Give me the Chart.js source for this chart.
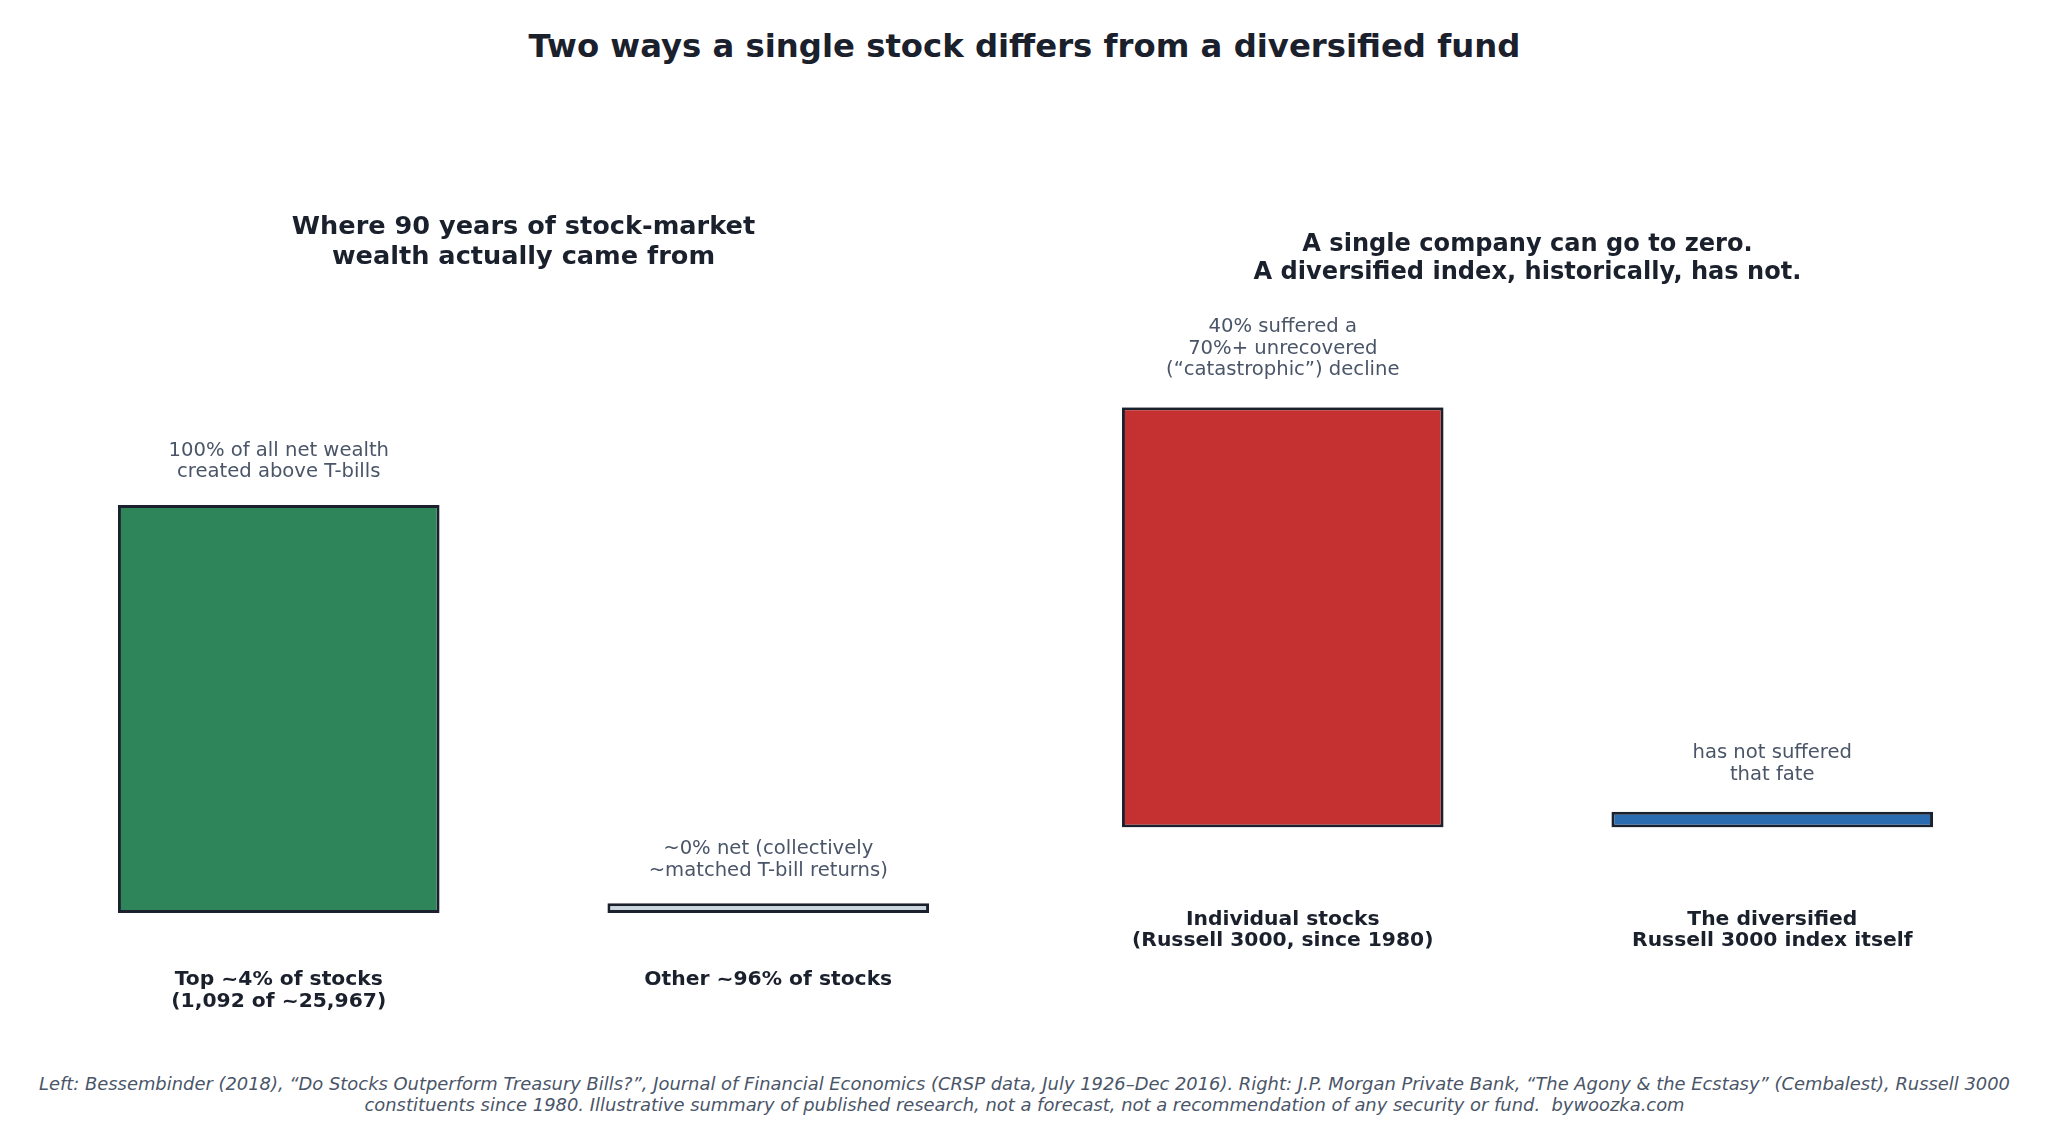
<!DOCTYPE html>
<html>
<head>
<meta charset="utf-8">
<script src="https://cdn.jsdelivr.net/npm/chart.js"></script>
<style>
  body { margin:0; background:#fff; width:2049px; height:1147px; position:relative; overflow:hidden; font-family:'DejaVu Sans', sans-serif; }
  #title { position:absolute; left:0; top:31px; width:2049px; text-align:center; font-weight:bold; font-size:32.3px; line-height:30px; color:#1a202c; }
  canvas { position:absolute; top:0; }
  #left { left:34px; }
  #right { left:1038px; }
  #foot { position:absolute; left:0; top:1073px; width:2049px; text-align:center; font-style:italic; font-size:17.9px; line-height:21.2px; color:#4a5568; white-space:pre; }
</style>
</head>
<body>
<div id="title">Two ways a single stock differs from a diversified fund</div>
<canvas id="left" width="979" height="1069"></canvas>
<canvas id="right" width="979" height="1033"></canvas>
<div id="foot">Left: Bessembinder (2018), “Do Stocks Outperform Treasury Bills?”, Journal of Financial Economics (CRSP data, July 1926–Dec 2016). Right: J.P. Morgan Private Bank, “The Agony &amp; the Ecstasy” (Cembalest), Russell 3000
constituents since 1980. Illustrative summary of published research, not a forecast, not a recommendation of any security or fund.  bywoozka.com</div>
<script>
// left panel: where the wealth came from (share of net wealth, %)
const leftTitle = ['Where 90 years of stock-market', 'wealth actually came from'];
const leftCategories = [['Top ~4% of stocks', '(1,092 of ~25,967)'], ['Other ~96% of stocks']];
const leftValues = [100, 2.4];
const leftColors = ['#2f855a', '#cbd5e0'];
const leftNotes = [['100% of all net wealth', 'created above T-bills'], ['~0% net (collectively', '~matched T-bill returns)']];

// right panel: catastrophic declines (%)
const rightTitle = ['A single company can go to zero.', 'A diversified index, historically, has not.'];
const rightCategories = [['Individual stocks', '(Russell 3000, since 1980)'], ['The diversified', 'Russell 3000 index itself']];
const rightValues = [40, 1.5];
const rightColors = ['#c53030', '#2b6cb0'];
const rightNotes = [['40% suffered a', '70%+ unrecovered', '(“catastrophic”) decline'], ['has not suffered', 'that fate']];

const FONT = "'DejaVu Sans', sans-serif";

// text above each bar
const barNotes = {
  id: 'barNotes',
  afterDatasetsDraw(chart, args, opts) {
    const ctx = chart.ctx;
    const meta = chart.getDatasetMeta(0);
    ctx.save();
    ctx.font = '19.6px ' + FONT;
    ctx.fillStyle = '#4a5568';
    ctx.textAlign = 'center';
    ctx.textBaseline = 'middle';
    meta.data.forEach((bar, i) => {
      const lines = opts.notes[i] || [];
      lines.forEach((line, j) => {
        const y = bar.y - opts.gap - (lines.length - 1 - j) * 21.7;
        ctx.fillText(line, bar.x, y);
      });
    });
    ctx.restore();
  }
};

function makePanel(id, title, categories, values, colors, notes, cfg) {
  return new Chart(document.getElementById(id), {
    type: 'bar',
    data: {
      labels: categories,
      datasets: [{
        data: values,
        backgroundColor: colors,
        borderColor: '#1a202c',
        borderWidth: 3,
        borderSkipped: false,
        barPercentage: 1,
        categoryPercentage: 0.657
      }]
    },
    options: {
      responsive: false,
      animation: false,
      devicePixelRatio: 1,
      layout: { padding: 0 },
      scales: {
        x: {
          grid: { display: false, drawTicks: false },
          border: { display: false },
          ticks: {
            padding: cfg.tickPad,
            maxRotation: 0,
            color: '#1a202c',
            font: { family: FONT, size: 20.3, weight: 'bold', lineHeight: 21.7 / 20.3 }
          }
        },
        y: { display: false, min: 0, max: cfg.yMax }
      },
      plugins: {
        legend: { display: false },
        tooltip: { enabled: false },
        title: {
          display: true,
          text: title,
          color: '#1a202c',
          font: { family: FONT, size: cfg.titleSize, weight: 'bold', lineHeight: cfg.titleLine / cfg.titleSize },
          padding: { top: cfg.titleTop, bottom: cfg.titleBottom }
        },
        barNotes: { notes, gap: cfg.gap }
      }
    },
    plugins: [barNotes]
  });
}

makePanel('left', leftTitle, leftCategories, leftValues, leftColors, leftNotes,
  { yMax: 100, tickPad: 56.3, titleSize: 25.6, titleLine: 30, titleTop: 212, titleBottom: 233, gap: 32.7 });
makePanel('right', rightTitle, rightCategories, rightValues, rightColors, rightNotes,
  { yMax: 40, tickPad: 81, titleSize: 24.1, titleLine: 27.5, titleTop: 231, titleBottom: 121.3, gap: 37 });
</script>
</body>
</html>
